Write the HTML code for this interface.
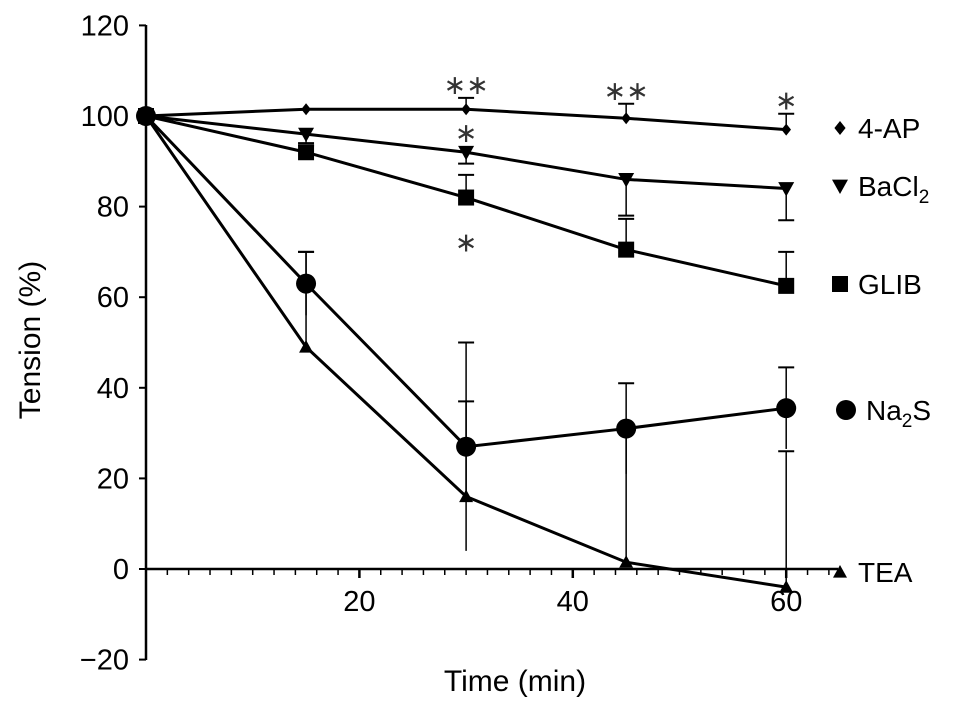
<!DOCTYPE html>
<html><head><meta charset="utf-8"><style>
body{margin:0;background:#fff}
svg{display:block;font-family:"Liberation Sans",sans-serif}
</style></head><body>
<svg id="c" width="969" height="708"></svg>
<script>
const times=[0,15,30,45,60];
const ap=[100,101.5,101.5,99.5,97];
const apErr=[0,0,2.5,3.2,3.5];
const ba=[100,96,92,86,84];
const baErr=[0,2,2.5,8,7];
const gl=[100,92,82,70.5,62.5];
const glErr=[0,1.5,5,6.8,7.5];
const na=[100,63,27,31,35.5];
const naErr=[0,7,23,10,9];
const tea=[100,49,16,1.5,-4];
const teaErr=[0,21,21,29,30];
const yTicks=[-20,0,20,40,60,80,100,120];
const xTicks=[20,40,60];
const NS="http://www.w3.org/2000/svg";
const svg=document.getElementById('c');
const X=t=>146+t*10.67, Y=v=>569-v*4.53;
function el(tag,a,p){const e=document.createElementNS(NS,tag);for(const k in a)e.setAttribute(k,a[k]);(p||svg).appendChild(e);return e;}
function txt(s,a){const e=el('text',a);e.textContent=s;return e;}
let e=el('line',{x1:146,y1:25,x2:146,y2:660,stroke:'#000','stroke-width':2.5});


e=el('line',{x1:146,y1:569,x2:838,y2:569,stroke:'#000','stroke-width':2.5});


yTicks.forEach(v=>{
 const t=el('line',{x1:139,y1:Y(v),x2:146,y2:Y(v),stroke:'#000','stroke-width':2});
 
 
 const l=txt(v<0?'\u2212'+(-v):String(v),{x:129,y:Y(v)+10,'text-anchor':'end','font-size':29});
 
 
});
for(let t=2;t<=64;t+=2){
 const big=t%20===0;
 const m=el('line',{x1:X(t),y1:569,x2:X(t),y2:big?578:575,stroke:'#000','stroke-width':big?2.5:1.5});
 
 
}
xTicks.forEach(t=>{
 const l=txt(String(t),{x:X(t),y:611,'text-anchor':'middle','font-size':29});
 
 
});
let tt=txt('Time (min)',{x:515,y:691,'text-anchor':'middle','font-size':30});


tt=txt('Tension (%)',{x:0,y:0,'text-anchor':'middle','font-size':30,transform:'translate(40,340) rotate(-90)'});


function marker(shape,x,y,s,p){
 if(shape==='d')return el('polygon',{points:`${x},${y-s} ${x+s*0.8},${y} ${x},${y+s} ${x-s*0.8},${y}`},p);
 if(shape==='v')return el('polygon',{points:`${x-s},${y-s*0.8} ${x+s},${y-s*0.8} ${x},${y+s}`},p);
 if(shape==='s')return el('rect',{x:x-s,y:y-s,width:2*s,height:2*s},p);
 if(shape==='c')return el('circle',{cx:x,cy:y,r:s},p);
 if(shape==='t')return el('polygon',{points:`${x},${y-s} ${x+s},${y+s*0.8} ${x-s},${y+s*0.8}`},p);
}
function series(name,vals,errs,mode,shape,size){
 const g=el('g',{fill:'#000',stroke:'#000'});
 
 
 vals.forEach((v,i)=>{
  if(!errs[i])return;
  let hi=v+errs[i],lo=v-errs[i];
  if(mode==='up')lo=v; if(mode==='down')hi=v;
  el('line',{x1:X(times[i]),y1:Y(hi),x2:X(times[i]),y2:Y(lo),'stroke-width':1.5},g);
  if(mode!=='down')el('line',{x1:X(times[i])-8,y1:Y(hi),x2:X(times[i])+8,y2:Y(hi),'stroke-width':2},g);
  if(mode==='down')el('line',{x1:X(times[i])-8,y1:Y(lo),x2:X(times[i])+8,y2:Y(lo),'stroke-width':2},g);
 });
 el('polyline',{points:vals.map((v,i)=>X(times[i])+','+Y(v)).join(' '),fill:'none','stroke-width':3},g);
 vals.forEach((v,i)=>{const m=marker(shape,X(times[i]),Y(v),size,g);m.setAttribute('stroke','none');});
}
series('tea',tea,teaErr,'up','t',7);
series('na2s',na,naErr,'both','c',10);
series('glib',gl,glErr,'up','s',8);
series('bacl2',ba,baErr,'down','v',8);
series('4-ap',ap,apErr,'up','d',6);
[['**',30,ap[2]+apErr[2],-16],['**',45,ap[3]+apErr[3],-16],['*',60,ap[4]+apErr[4],-16],['*',30,ba[2],-22],['*',30,gl[2],42]].forEach(a=>{
 const s=txt(a[0].replace(/\*/g,'\u2217'),{x:X(a[1]),y:Y(a[2])+a[3]+12,'text-anchor':'middle','font-size':27,'font-family':'DejaVu Sans, sans-serif',fill:'#333'});
 
 
});
const leg=[['d',128,'4-AP',7],['v',186,'BaCl',8],['s',284,'GLIB',8],['c',410,'Na',10],['t',572,'TEA',7]];
leg.forEach(l=>{
 const g=el('g',{});
 
 
 marker(l[0],l[0]==='c'?846:840,l[1],l[3],g);
 const t=el('text',{x:l[0]==='c'?866:858,y:l[1]+10,'font-size':28},g);
 if(l[2]==='BaCl'){t.innerHTML='BaCl<tspan font-size="19" dy="7">2</tspan>';}
 else if(l[2]==='Na'){t.innerHTML='Na<tspan font-size="19" dy="7">2</tspan><tspan dy="-7">S</tspan>';}
 else t.textContent=l[2];
});
</script>
</body></html>
